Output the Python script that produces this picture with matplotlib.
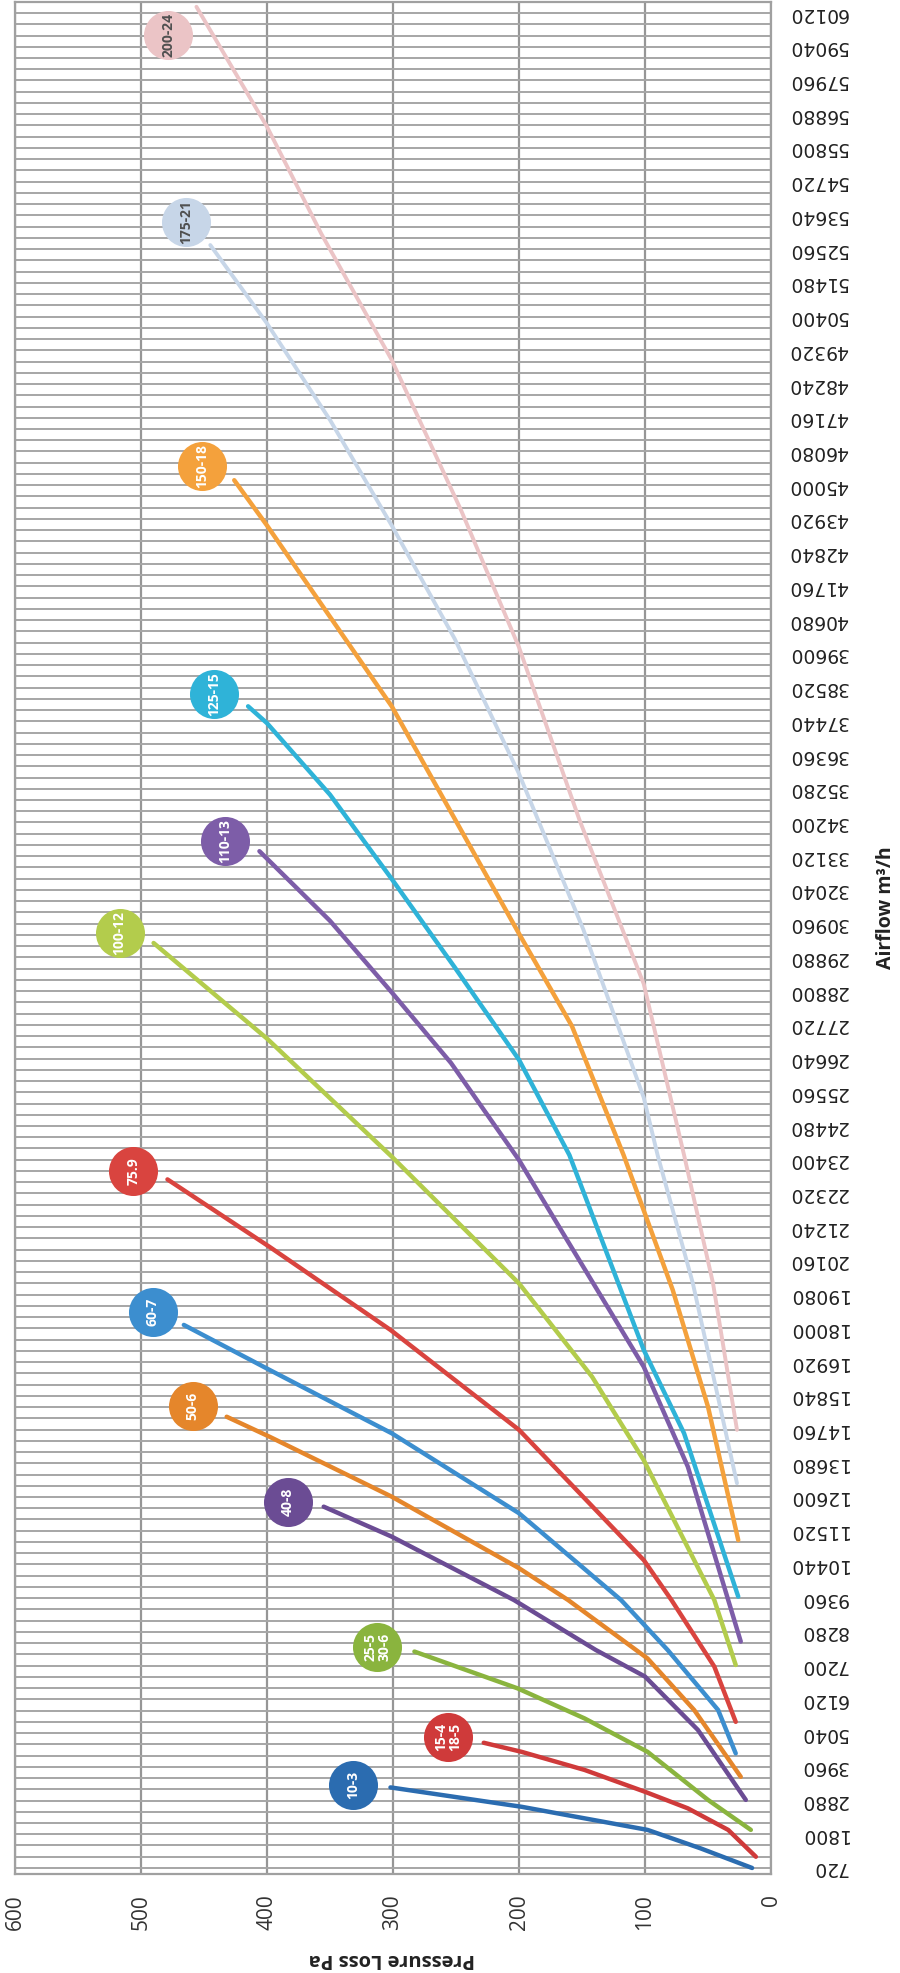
import matplotlib
matplotlib.use("Agg")
import matplotlib.pyplot as plt
import matplotlib.transforms as mtransforms
import numpy as np

# ---------------- data ----------------
airflow_ticks = [720, 1800, 2880, 3960, 5040, 6120, 7200, 8280, 9360, 10440,
                 11520, 12600, 13680, 14760, 15840, 16920, 18000, 19080, 20160,
                 21240, 22320, 23400, 24480, 25560, 26640, 27720, 28800, 29880,
                 30960, 32040, 33120, 34200, 35280, 36360, 37440, 38520, 39600,
                 40680, 41760, 42840, 43920, 45000, 46080, 47160, 48240, 49320,
                 50400, 51480, 52560, 53640, 54720, 55800, 56880, 57960, 59040,
                 60120]
pressure_ticks = [0, 100, 200, 300, 400, 500, 600]

series_labels = ["10-3", "15-4\n18-5", "25-5\n30-6", "40-8", "50-6", "60-7",
                 "75.9", "100-12", "110-13", "125-15", "150-18", "175-21",
                 "200-24"]

airflow_10_3 = [720, 1350, 1940, 2680, 3300]
pressure_10_3 = [15, 56, 98, 198, 302]

airflow_15_4 = [1080, 1940, 2630, 3160, 3860, 4440, 4730]
pressure_15_4 = [12, 34, 66, 100, 148, 198, 228]

airflow_25_5 = [1940, 2900, 4440, 5510, 6470, 7650]
pressure_25_5 = [16, 50, 98, 148, 201, 283]

airflow_40_8 = [2900, 5140, 6850, 7700, 9300, 11330, 12290]
pressure_40_8 = [20, 58, 100, 139, 204, 301, 355]

airflow_50_6 = [3640, 5780, 7430, 9300, 10320, 12610, 14530, 15170]
pressure_50_6 = [24, 61, 98, 161, 200, 301, 398, 432]

airflow_60_7 = [4390, 5780, 7700, 9300, 12080, 14640, 16670, 18110]
pressure_60_7 = [28, 42, 82, 119, 200, 301, 398, 466]

airflow_75_9 = [5400, 7170, 9300, 10580, 14750, 17950, 20610, 22770]
pressure_75_9 = [28, 45, 79, 101, 200, 302, 398, 479]

airflow_100_12 = [7220, 9300, 13780, 16450, 19440, 23500, 27280, 30340]
pressure_100_12 = [28, 45, 101, 142, 200, 301, 400, 490]

airflow_110_13 = [7970, 9840, 13570, 16770, 21040, 23390, 26500, 28760, 31050, 33280]
pressure_110_13 = [24, 38, 66, 101, 165, 200, 254, 301, 350, 406]

airflow_125_15 = [9410, 14640, 17310, 23550, 26600, 29560, 32390, 35090, 37380, 37920]
pressure_125_15 = [26, 69, 101, 160, 200, 251, 301, 350, 400, 415]

airflow_150_18 = [11220, 15490, 19230, 23550, 27680, 30640, 37920, 43710, 45160]
pressure_150_18 = [26, 50, 78, 117, 158, 200, 301, 400, 426]

airflow_175_21 = [13040, 19440, 23550, 25390, 30780, 35760, 40080, 43710, 47090, 50180, 52690]
pressure_175_21 = [27, 62, 90, 101, 149, 200, 251, 301, 350, 400, 445]

airflow_200_24 = [14750, 19440, 23550, 29030, 34280, 39810, 44200, 49010, 53060, 56480, 60320]
pressure_200_24 = [27, 46, 69, 101, 152, 200, 246, 301, 357, 400, 456]

# ---------------- styling ----------------
line_colors = ["#2b6cb0", "#cf3a3a", "#8ab43e", "#6b4c94", "#e5862b", "#3c8ecf",
               "#d9443f", "#b3cc4c", "#7d5da8", "#2fb3d8", "#f4a13c", "#c7d6e8",
               "#ebc4c6"]
text_colors = ["white"] * 11 + ["#505050", "#505050"]
line_widths = [3.2] * 11 + [2.8, 2.8]
# circle label offsets from the curve end, in pixels (x, y up)
label_offsets = [(-37, 2), (-36, 6), (-37, 5), (-36, 5), (-34, 11), (-31, 13),
                 (-34, 8), (-34, 10), (-34, 10), (-34, 12), (-32, 14), (-24, 23),
                 (-28, -28)]

airflows = [airflow_10_3, airflow_15_4, airflow_25_5, airflow_40_8, airflow_50_6,
            airflow_60_7, airflow_75_9, airflow_100_12, airflow_110_13,
            airflow_125_15, airflow_150_18, airflow_175_21, airflow_200_24]
pressures = [pressure_10_3, pressure_15_4, pressure_25_5, pressure_40_8,
             pressure_50_6, pressure_60_7, pressure_75_9, pressure_100_12,
             pressure_110_13, pressure_125_15, pressure_150_18, pressure_175_21,
             pressure_200_24]

W, H, DPI = 900, 1973, 100
fig = plt.figure(figsize=(W / DPI, H / DPI), dpi=DPI)
fig.patch.set_facecolor("white")
ax_l, ax_r, ax_t, ax_b = 15, 771, 1.8, 1873.6
ax = fig.add_axes([ax_l / W, (H - ax_b) / H, (ax_r - ax_l) / W, (ax_b - ax_t) / H])

ax.set_xlim(600, 0)
ax.set_ylim(540, 60480)

# grid
ax.set_axisbelow(True)
ax.set_yticks(np.arange(720, 60481, 360), minor=True)
ax.grid(axis="y", which="both", color="#a6a6a6", lw=1.4)
ax.grid(axis="x", which="major", color="#969696", lw=1.6)
for s in ax.spines.values():
    s.set_color("#a0a0a0")
    s.set_linewidth(1.6)

# airflow axis on the right, labels upside down
ax.yaxis.tick_right()
ax.set_yticks(airflow_ticks, [str(v) for v in airflow_ticks], rotation=180,
              ha="right", va="center", fontfamily="DejaVu Sans")
ax.tick_params(axis="y", which="both", length=0, pad=55.4, labelsize=13.5,
               labelcolor="#222222")

# pressure axis at bottom, labels rotated
ax.set_xticks(pressure_ticks, [str(v) for v in pressure_ticks], rotation=90,
              ha="center", va="top", fontfamily="Open Sans")
ax.tick_params(axis="x", which="both", length=0, pad=15, labelsize=15,
               labelcolor="#333333")

ax.set_xlabel("Pressure Loss Pa", rotation=180, fontsize=14.5, fontweight="bold",
              fontfamily="Open Sans", color="#222222", va="center", ha="center")
ax.xaxis.set_label_coords(0.499, -0.0456)
ax.yaxis.set_label_position("right")
ax.set_ylabel("Airflow m³/h", rotation=90, fontsize=14, fontweight="bold",
              fontfamily="Open Sans", color="#222222", va="center", ha="center")
ax.yaxis.set_label_coords(1.152, 0.516)

# curves and circle labels
for q, p, col, lw, lab, tc, (dx, dy) in zip(airflows, pressures, line_colors,
                                            line_widths, series_labels,
                                            text_colors, label_offsets):
    ax.plot(p, q, color=col, lw=lw, solid_capstyle="round",
            solid_joinstyle="round", zorder=3)
    trans = mtransforms.offset_copy(ax.transData, fig=fig, x=dx, y=dy, units="dots")
    ax.plot(p[-1], q[-1], "o", ms=35.3, mfc=col, mec="none", transform=trans,
            zorder=5, clip_on=False)
    ax.text(p[-1], q[-1], lab, transform=trans, rotation=90, ha="center",
            va="center", color=tc, fontsize=10, fontweight="bold",
            fontfamily="Open Sans", linespacing=1.0, zorder=6)

fig.savefig("out.png", dpi=DPI, facecolor="white")
